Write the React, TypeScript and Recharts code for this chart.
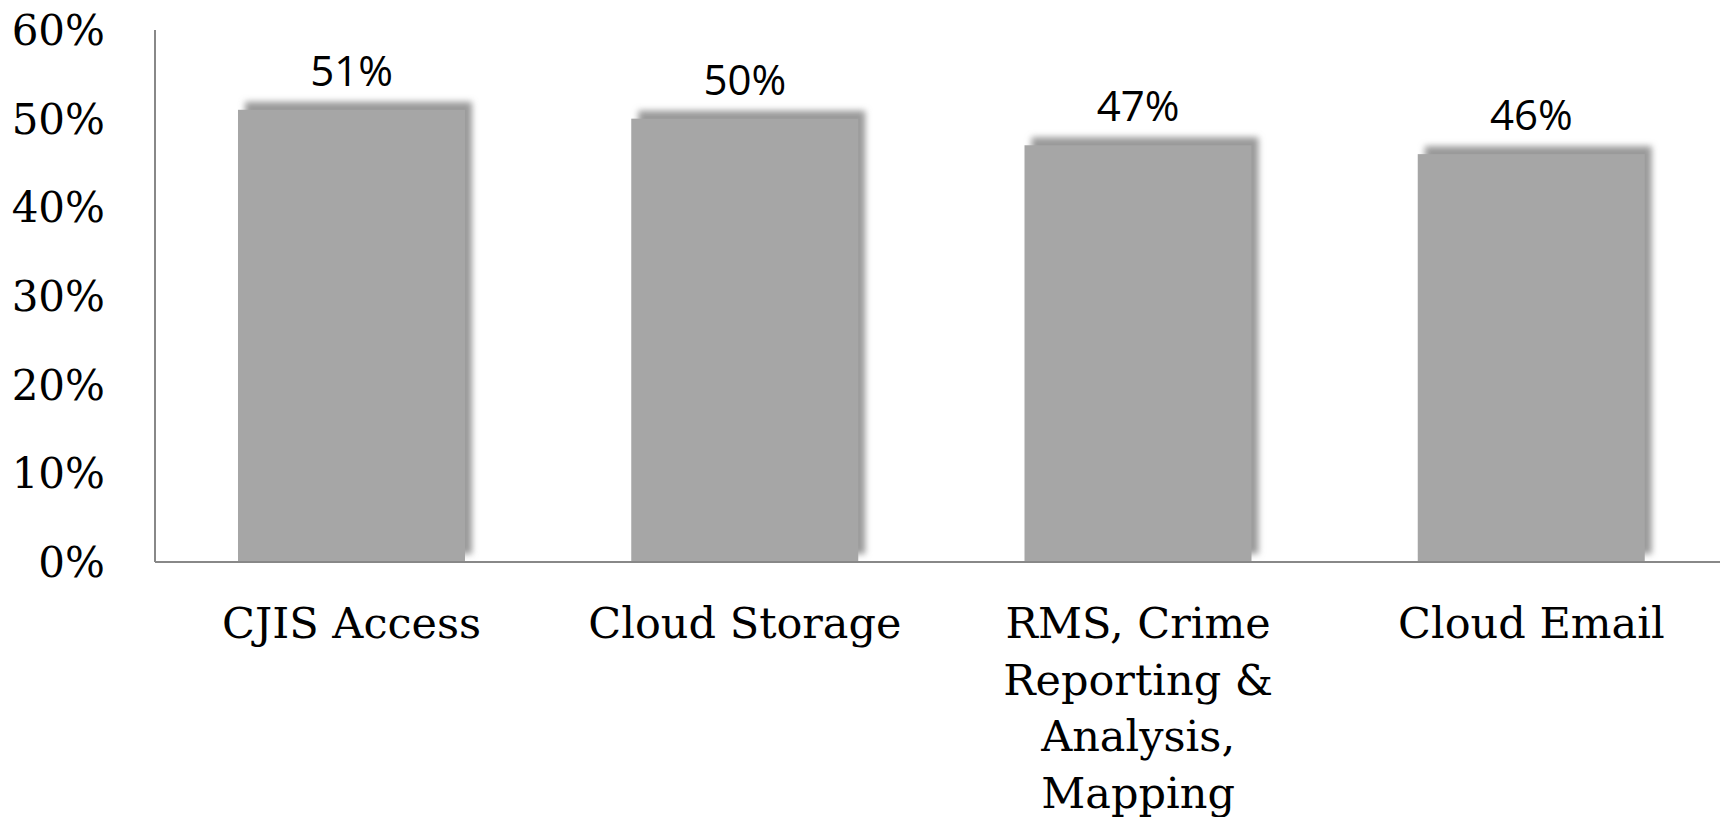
import { Bar, BarChart, LabelList, XAxis, YAxis } from "recharts";

const categories = ["CJIS Access", "Cloud Storage", "RMS, Crime Reporting & Analysis, Mapping", "Cloud Email"];
const shares = [0.51, 0.5, 0.47, 0.46];
const yTicks = [0, 0.1, 0.2, 0.3, 0.4, 0.5, 0.6];

const data = categories.map((name, i) => ({ name, value: shares[i] }));

const pct = (v: number) => `${Math.round(v * 100)}%`;
const axisFont = "'DejaVu Serif', serif";
const catFontSize = 43;

// greedy word wrap using canvas text metrics
function wrapWords(text: string, maxWidth: number) {
  const ctx = document.createElement("canvas").getContext("2d");
  if (!ctx) return [text];
  ctx.font = `${catFontSize}px 'DejaVu Serif'`;
  const lines: string[] = [];
  let cur = "";
  for (const w of text.split(" ")) {
    const next = cur ? `${cur} ${w}` : w;
    if (cur && ctx.measureText(next).width > maxWidth) {
      lines.push(cur);
      cur = w;
    } else {
      cur = next;
    }
  }
  if (cur) lines.push(cur);
  return lines;
}

function ShadowBar(props: any) {
  const { x, y, width, height } = props;
  return (
    <g>
      <rect x={x + 7} y={y - 8} width={width} height={height} fill="#9a9a9a" filter="url(#barShadow)" />
      <rect x={x} y={y} width={width} height={height} fill="#a6a6a6" />
    </g>
  );
}

function CategoryTick(props: any) {
  const { x, y, payload } = props;
  const lines = wrapWords(String(payload.value), 340);
  return (
    <text x={x} y={y} textAnchor="middle" fontSize={catFontSize} fontFamily={axisFont} fill="#000">
      {lines.map((line, i) => (
        <tspan key={i} x={x} y={y + 74 + i * 56.5}>
          {line}
        </tspan>
      ))}
    </text>
  );
}

function PercentTick(props: any) {
  const { x, y, payload } = props;
  return (
    <text x={x - 48} y={y} dy="0.36em" textAnchor="end" fontSize={42} fontFamily={axisFont} fill="#000">
      {pct(payload.value)}
    </text>
  );
}

export default function App() {
  return (
    <div style={{ position: "fixed", left: 0, top: 0, width: 1720, height: 817, overflow: "hidden", background: "#fff" }}>
      <BarChart width={1728} height={817} data={data} margin={{ top: 30, right: 0, bottom: 55, left: 0 }} barSize={227}>
        <defs>
          <filter id="barShadow" x="-10%" y="-10%" width="120%" height="120%">
            <feGaussianBlur stdDeviation="3" />
          </filter>
        </defs>
        <XAxis
          dataKey="name"
          tickLine={false}
          tickSize={0}
          height={200}
          axisLine={{ stroke: "#888", strokeWidth: 2 }}
          tick={<CategoryTick />}
          interval={0}
        />
        <YAxis
          domain={[0, 0.6]}
          ticks={yTicks}
          width={155}
          tickLine={false}
          tickSize={0}
          axisLine={{ stroke: "#888", strokeWidth: 2 }}
          tick={<PercentTick />}
        />
        <Bar dataKey="value" shape={<ShadowBar />} isAnimationActive={false}>
          <LabelList
            dataKey="value"
            position="top"
            offset={24}
            formatter={(v: any) => pct(Number(v))}
            fontSize={42}
            fontFamily="'Open Sans', sans-serif"
            fill="#000"
          />
        </Bar>
      </BarChart>
    </div>
  );
}
